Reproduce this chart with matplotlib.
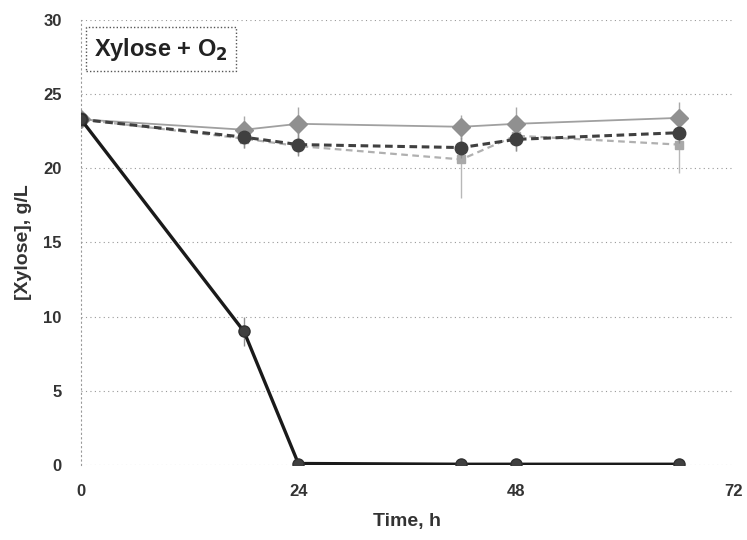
import matplotlib
matplotlib.use("Agg")
import matplotlib.pyplot as plt

plt.rcParams['font.family'] = ['Liberation Sans', 'DejaVu Sans']

time_h = [0, 18, 24, 42, 48, 66]
xylose_ctrl_solid = [23.3, 9.0, 0.1, 0.05, 0.05, 0.05]
xylose_ctrl_err = [0.3, 1.0, 0.2, 0.1, 0.1, 0.1]
xylose_light = [23.3, 22.6, 23.0, 22.8, 23.0, 23.4]
xylose_light_err = [0.3, 0.9, 1.1, 0.8, 1.1, 1.1]
xylose_dark = [23.3, 22.1, 21.6, 21.4, 21.95, 22.4]
xylose_dark_err = [0.3, 0.7, 0.8, 0.7, 0.8, 0.7]
xylose_pale = [23.3, 22.0, 21.5, 20.6, 22.2, 21.6]
xylose_pale_err = [0.3, 0.6, 0.6, 2.6, 1.0, 1.9]

x_ticks = [0, 24, 48, 72]
y_ticks = [0, 5, 10, 15, 20, 25, 30]

fig = plt.figure(figsize=(7.47, 5.40), dpi=100)
ax = fig.add_axes([0.1084, 0.1389, 0.8729, 0.8241])

ax.errorbar(time_h, xylose_pale, yerr=xylose_pale_err, color='#b0b0b0', lw=1.6,
            ls=(0, (3, 2)), marker='s', ms=6, mfc='#a8a8a8', mec='#a8a8a8',
            ecolor='#b8b8b8', elinewidth=1, capsize=0, zorder=2)
ax.errorbar(time_h, xylose_light, yerr=xylose_light_err, color='#a0a0a0', lw=1.3,
            ls='-', marker='D', ms=9, mfc='#909090', mec='#909090',
            ecolor='#a8a8a8', elinewidth=1, capsize=0, zorder=3)
ax.errorbar(time_h, xylose_dark, yerr=xylose_dark_err, color='#404040', lw=2.2,
            ls=(0, (2.5, 1.5)), marker='o', ms=9, mfc='#404040', mec='#404040',
            ecolor='#909090', elinewidth=1, capsize=0, zorder=4)
ax.errorbar(time_h, xylose_ctrl_solid, yerr=xylose_ctrl_err, color='#1a1a1a', lw=2.4,
            ls='-', marker='o', ms=8, mfc='#404040', mec='#303030',
            ecolor='#909090', elinewidth=1, capsize=0, zorder=5)

ax.set_xlim(0, 72)
ax.set_ylim(0, 30)
ax.set_xticks(x_ticks)
ax.set_yticks(y_ticks)
ax.tick_params(axis='both', length=0, labelsize=12)
ax.tick_params(axis='x', pad=14)
ax.tick_params(axis='y', pad=14)
for lab in ax.get_xticklabels() + ax.get_yticklabels():
    lab.set_fontweight('bold')
    lab.set_color('#333333')

ax.grid(axis='y', color='#999999', ls=(0, (1, 3)), lw=0.8)
ax.grid(axis='x', visible=False)
for s in ['top', 'right', 'bottom']:
    ax.spines[s].set_visible(False)
ax.spines['left'].set_color('#999999')
ax.spines['left'].set_linestyle((0, (1, 3)))
ax.spines['left'].set_linewidth(0.8)

ax.set_xlabel('Time, h', fontsize=14, fontweight='bold', color='#333333', labelpad=10)
ax.set_ylabel('[Xylose], g/L', fontsize=14, fontweight='bold', color='#333333', labelpad=8)

ax.text(0.02, 0.965, 'Xylose + O$_\\mathbf{2}$', transform=ax.transAxes,
        fontsize=17, fontweight='bold', color='#222222', va='top', ha='left',
        bbox=dict(boxstyle='square,pad=0.35', fc='white', ec='#555555',
                  ls=(0, (1, 1.5)), lw=1.0))

fig.savefig('out.png', dpi=100)
